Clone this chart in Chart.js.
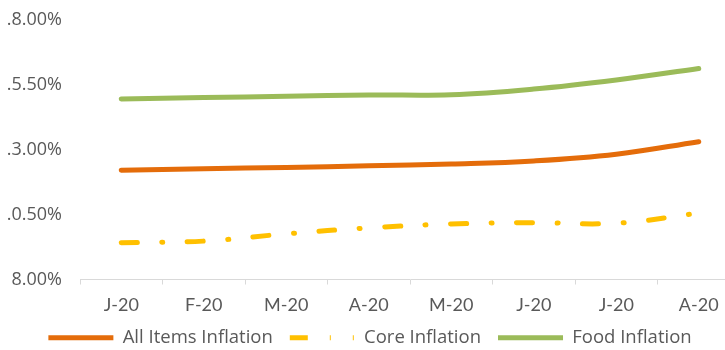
<!DOCTYPE html>
<html>
<head>
<meta charset="utf-8">
<script src="https://cdn.jsdelivr.net/npm/chart.js@4"></script>
<style>
  html, body { margin: 0; padding: 0; background: #fff; overflow: hidden; }
  #wrap { position: absolute; left: 0; top: 0; width: 745px; height: 350px; }
</style>
</head>
<body>
<div id="wrap"><canvas id="inflationChart"></canvas></div>
<script>
const months = ['J-20', 'F-20', 'M-20', 'A-20', 'M-20', 'J-20', 'J-20', 'A-20'];
const allItems = [12.21, 12.27, 12.32, 12.38, 12.45, 12.57, 12.83, 13.31];
const coreItems = [9.42, 9.48, 9.76, 9.99, 10.14, 10.19, 10.17, 10.56];
const foodItems = [14.96, 15.01, 15.06, 15.11, 15.12, 15.34, 15.69, 16.13];
const yTickLabels = ['8.00%', '.0.50%', '.3.00%', '.5.50%', '.8.00%'];

const fontFamily = '"Open Sans", sans-serif';
const textColor = '#595959';

// the core series uses a shorter dash-dot-dot swatch in the legend
const coreLegendDash = [18, 22, 1, 22, 1, 50];

const ctx = document.getElementById('inflationChart').getContext('2d');

new Chart(ctx, {
    type: 'line',
    data: {
        labels: months,
        datasets: [{
            label: 'All Items Inflation',
            data: allItems,
            borderColor: '#E46C0A',
            backgroundColor: '#E46C0A',
            borderWidth: 5,
            borderCapStyle: 'round',
            pointRadius: 0,
            tension: 0.4
        }, {
            label: 'Core Inflation',
            data: coreItems,
            borderColor: '#FFC000',
            backgroundColor: '#FFC000',
            borderWidth: 5,
            borderCapStyle: 'round',
            borderDash: [16, 24.5, 1, 24.5],
            pointRadius: 0,
            tension: 0.4
        }, {
            label: 'Food Inflation',
            data: foodItems,
            borderColor: '#9BBB59',
            backgroundColor: '#9BBB59',
            borderWidth: 5,
            borderCapStyle: 'round',
            pointRadius: 0,
            tension: 0.4
        }]
    },
    options: {
        responsive: true,
        maintainAspectRatio: false,
        animation: false,
        layout: { padding: { top: 20, right: 5, bottom: -7, left: 0 } },
        plugins: {
            tooltip: { enabled: false },
            legend: {
                position: 'bottom',
                labels: {
                    usePointStyle: true,
                    pointStyle: 'line',
                    pointStyleWidth: 65,
                    boxHeight: 5,
                    padding: 17,
                    color: textColor,
                    font: { family: fontFamily, size: 18.5 },
                    generateLabels: (chart) => {
                        const items = Chart.defaults.plugins.legend.labels.generateLabels(chart);
                        items[1].lineDash = coreLegendDash;
                        return items;
                    }
                }
            }
        },
        scales: {
            x: {
                offset: true,
                grid: {
                    offset: true,
                    drawOnChartArea: false,
                    drawTicks: true,
                    tickLength: 5,
                    color: '#D9D9D9'
                },
                border: { color: '#D9D9D9', width: 1 },
                ticks: {
                    color: textColor,
                    padding: 10,
                    font: { family: 'Lato, sans-serif', size: 18 }
                },
                afterFit: (scale) => { scale.height = 32; }
            },
            y: {
                min: 8,
                max: 18,
                grid: { display: false, tickLength: 18 },
                border: { display: false },
                ticks: {
                    stepSize: 2.5,
                    padding: 0,
                    color: textColor,
                    font: { family: fontFamily, size: 18 },
                    callback: (value, index) => yTickLabels[index]
                },
                afterFit: (scale) => { scale.width = 80; }
            }
        }
    }
});
</script>
</body>
</html>
